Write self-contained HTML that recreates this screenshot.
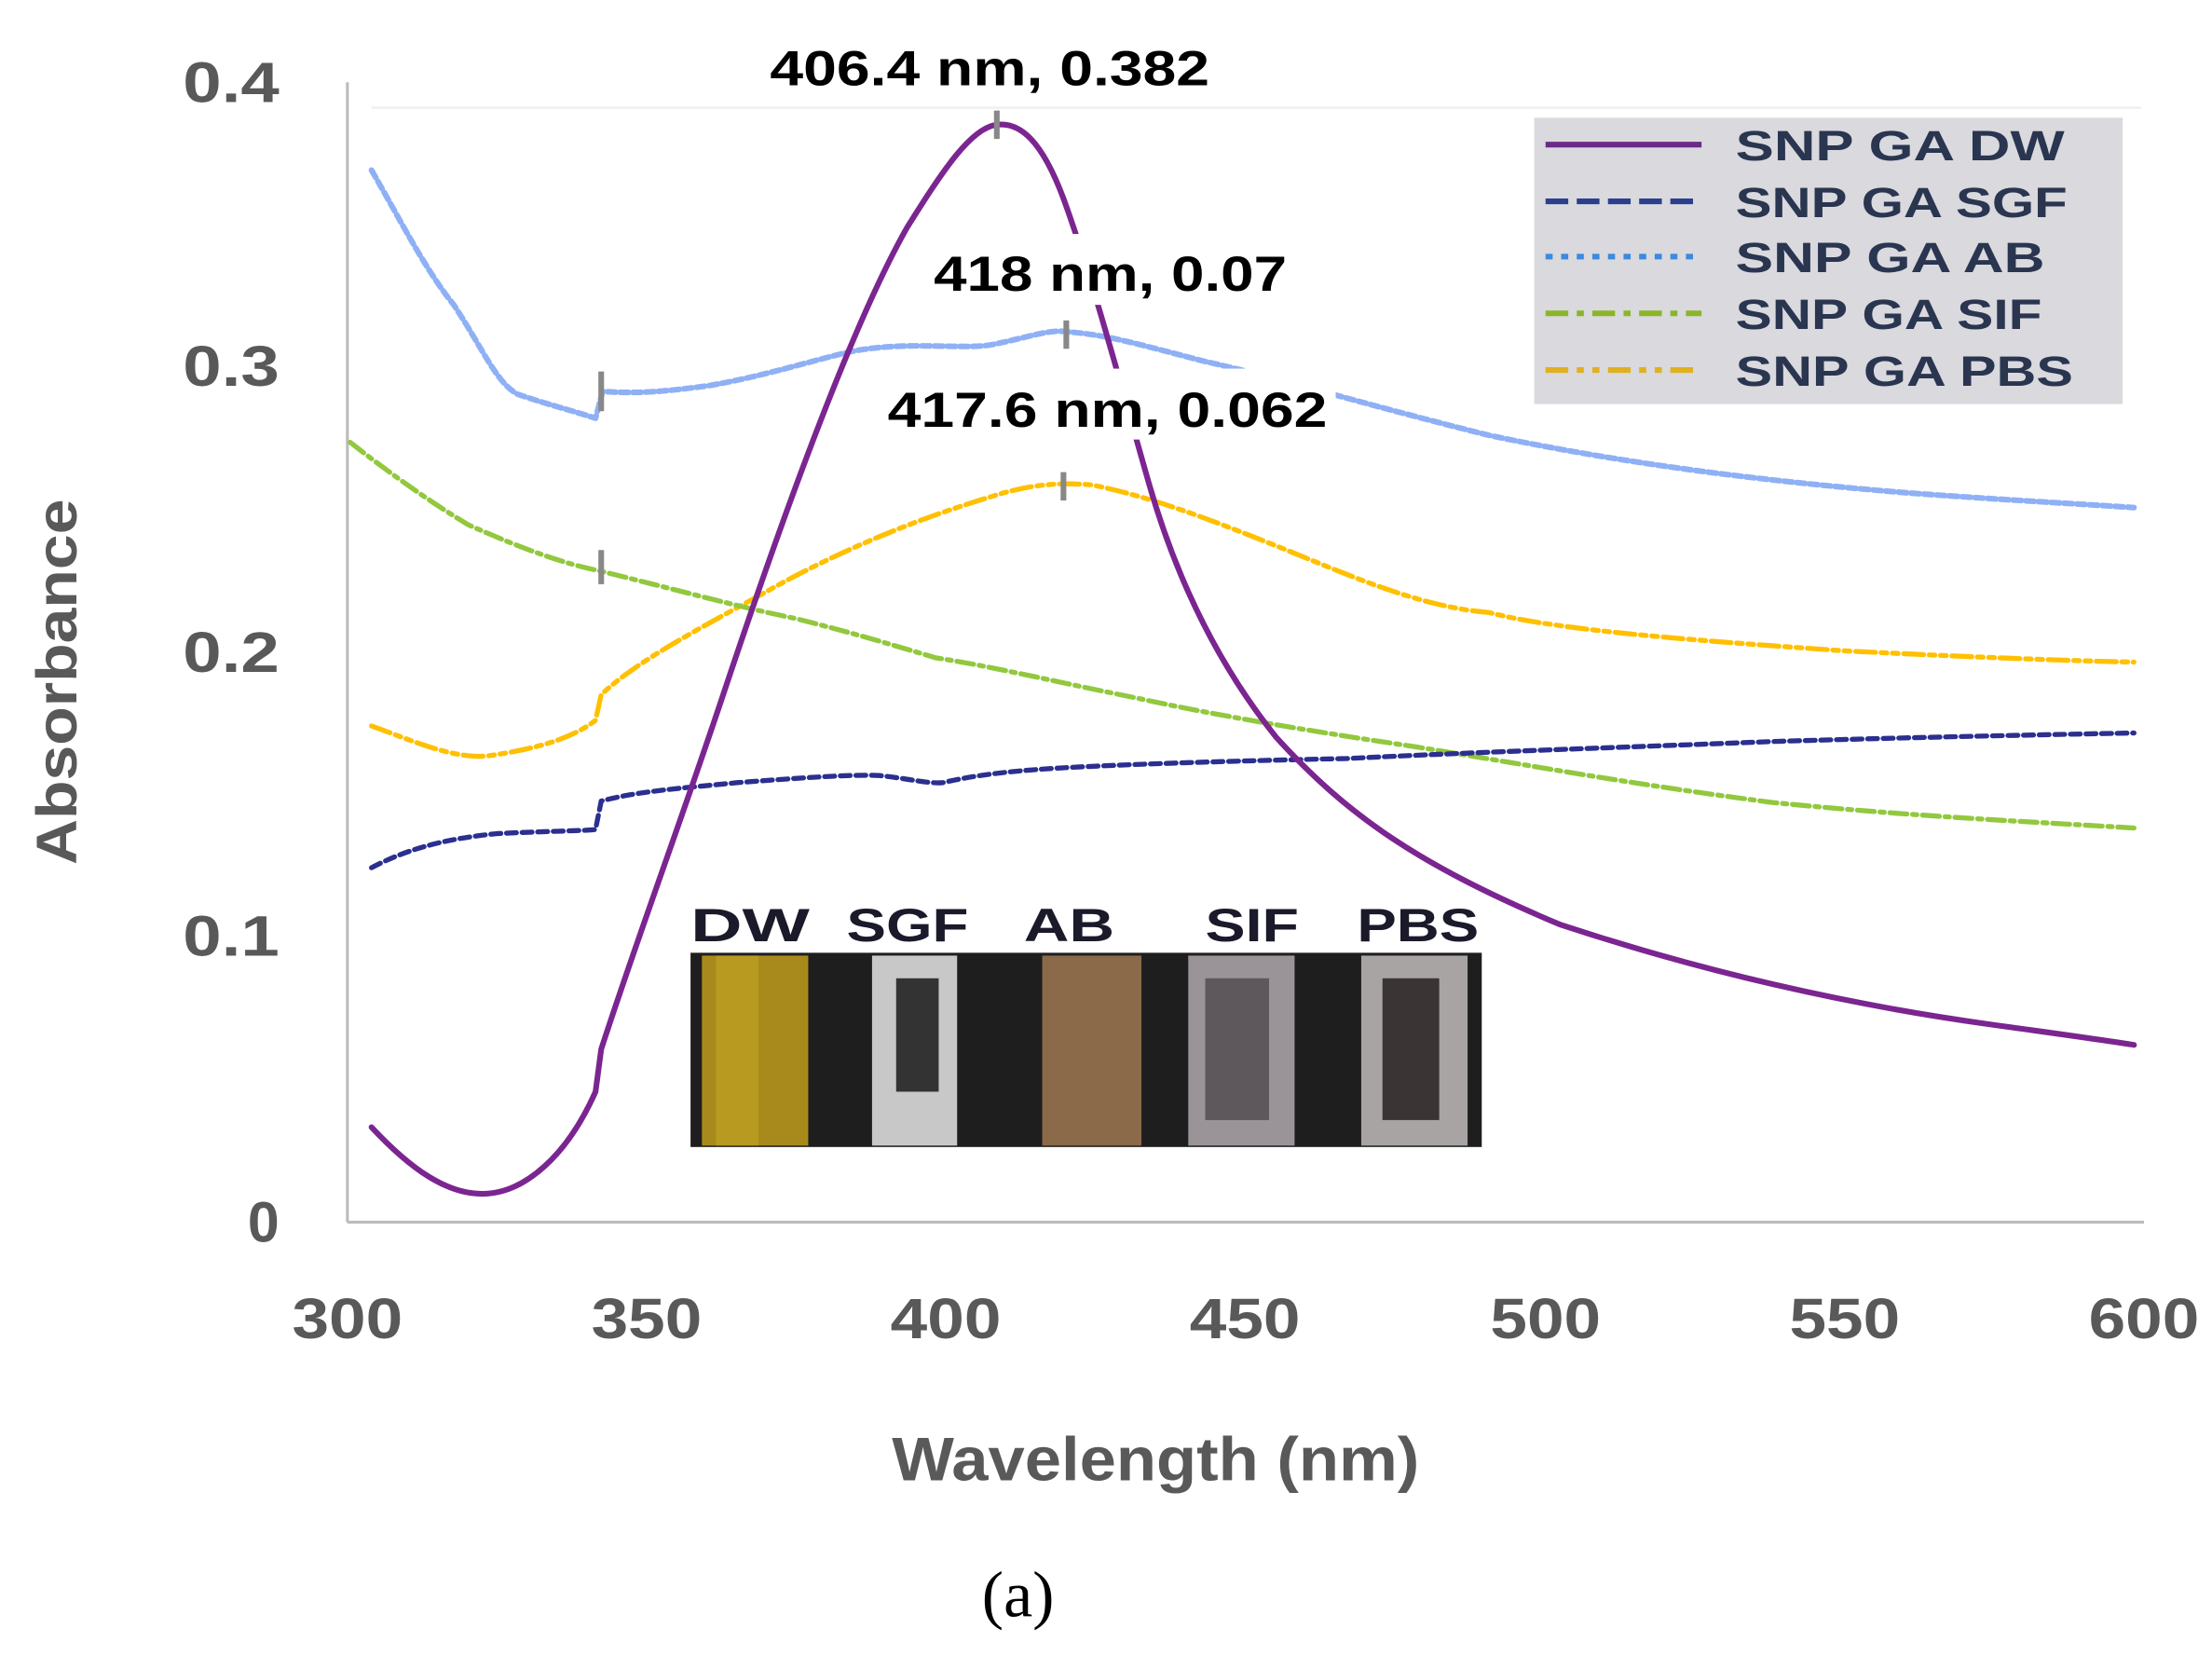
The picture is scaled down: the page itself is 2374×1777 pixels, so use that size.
<!DOCTYPE html>
<html><head><meta charset="utf-8"><style>
html,body{margin:0;padding:0;background:#fff;}
svg{display:block;}
.t{font-family:"Liberation Sans",sans-serif;font-weight:bold;fill:#595959;}
.a{font-family:"Liberation Sans",sans-serif;font-weight:bold;fill:#000;}
.l{font-family:"Liberation Sans",sans-serif;font-weight:bold;fill:#2a3550;font-size:30px;}
.p{font-family:"Liberation Sans",sans-serif;font-weight:bold;fill:#1a1a2a;font-size:33px;}
</style></head><body>
<svg width="2374" height="1777" viewBox="0 0 1560 1168" preserveAspectRatio="none" xmlns="http://www.w3.org/2000/svg">
<rect width="1560" height="1168" fill="#fff"/>
<line x1="262" y1="76" x2="1510" y2="76" stroke="#eee" stroke-width="1.5"/>
<line x1="245" y1="58" x2="245" y2="862" stroke="#bbb" stroke-width="2"/>
<line x1="245" y1="862" x2="1512" y2="862" stroke="#bbb" stroke-width="2"/>
<g class="t" font-size="40" text-anchor="end">
<text x="197" y="72" textLength="68" lengthAdjust="spacingAndGlyphs">0.4</text><text x="197" y="272" textLength="68" lengthAdjust="spacingAndGlyphs">0.3</text><text x="197" y="474" textLength="68" lengthAdjust="spacingAndGlyphs">0.2</text><text x="197" y="674" textLength="68" lengthAdjust="spacingAndGlyphs">0.1</text><text x="197" y="876">0</text>
</g>
<g class="t" font-size="40" text-anchor="middle">
<text x="245" y="944" textLength="78" lengthAdjust="spacingAndGlyphs">300</text><text x="456" y="944" textLength="78" lengthAdjust="spacingAndGlyphs">350</text><text x="667" y="944" textLength="78" lengthAdjust="spacingAndGlyphs">400</text><text x="878" y="944" textLength="78" lengthAdjust="spacingAndGlyphs">450</text><text x="1090" y="944" textLength="78" lengthAdjust="spacingAndGlyphs">500</text><text x="1301" y="944" textLength="78" lengthAdjust="spacingAndGlyphs">550</text><text x="1512" y="944" textLength="78" lengthAdjust="spacingAndGlyphs">600</text>
<text x="815" y="1044" font-size="43" textLength="372" lengthAdjust="spacingAndGlyphs">Wavelength (nm)</text>
</g>
<text class="t" font-size="40" text-anchor="middle" textLength="258" lengthAdjust="spacingAndGlyphs" transform="translate(54,481) rotate(-90)">Absorbance</text>
<text x="718" y="1140" font-family="Liberation Serif,serif" font-size="46" text-anchor="middle" fill="#000">(a)</text>
<g fill="none" stroke-linejoin="round" stroke-linecap="round">
<path d="M262,120 C285,160 300,190 320,215 C340,245 350,270 365,278 C385,285 405,290 420,295 L425,276 C450,278 470,276 500,272 C540,265 570,255 600,248 C640,240 680,247 700,243 C725,238 740,232 752,234 C780,236 800,242 850,255 C900,266 950,282 1050,307 C1150,328 1250,340 1350,348 C1420,353 1460,355 1505,358" stroke="#8fb0f5" stroke-width="4" stroke-dasharray="6 3"/>
<path d="M262,512 C290,522 320,536 345,533 C380,528 405,520 420,508 L424,490 C450,465 500,440 550,412 C600,385 650,365 700,350 C725,342 745,340 770,342 C810,350 850,365 900,385 C950,405 1000,428 1050,432 C1100,445 1200,452 1300,459 C1400,464 1460,466 1505,467" stroke="#ffc000" stroke-width="3.5" stroke-dasharray="14 4 4 4 4 4"/>
<path d="M247,312 C270,330 300,352 330,370 C370,388 400,398 420,402 C470,414 520,428 560,436 C600,446 630,455 660,464 C700,470 740,480 800,492 C860,505 920,515 1000,527 C1080,540 1150,553 1250,566 C1350,576 1440,580 1505,584" stroke="#92c83e" stroke-width="3.5" stroke-dasharray="12 4 3 4"/>
<path d="M262,612 C285,600 310,592 350,588 C390,586 415,586 420,585 L424,565 C450,558 480,556 520,552 C560,549 600,546 620,547 C640,549 655,553 665,552 C690,546 720,543 760,541 C820,538 900,536 950,535 C1050,530 1150,527 1250,523 C1350,520 1450,518 1505,517" stroke="#2b2f8f" stroke-width="3.5" stroke-dasharray="7 4"/>
<path d="M262,795 C290,825 315,842 340,842 C370,842 400,815 420,770 L424,740 C450,660 480,580 510,490 C550,370 600,230 640,160 C665,120 685,90 703,88 C720,86 735,100 750,140 C770,195 790,270 810,340 C830,410 860,470 900,520 C950,575 1000,610 1100,652 C1200,685 1300,708 1400,722 C1450,729 1480,733 1505,737" stroke="#7b2591" stroke-width="4"/>
</g>
<rect x="652" y="165" width="262" height="50" fill="#fff"/>
<rect x="620" y="260" width="322" height="50" fill="#fff"/>
<g stroke="#888" stroke-width="4">
<line x1="703" y1="78" x2="703" y2="98"/><line x1="752" y1="226" x2="752" y2="246"/><line x1="750" y1="333" x2="750" y2="353"/>
<line x1="424" y1="262" x2="424" y2="290"/><line x1="424" y1="388" x2="424" y2="412"/>
</g>
<g class="a" font-size="35" text-anchor="middle">
<text x="698" y="60" textLength="310" lengthAdjust="spacingAndGlyphs">406.4 nm, 0.382</text>
<text x="783" y="205" textLength="249" lengthAdjust="spacingAndGlyphs">418 nm, 0.07</text>
<text x="781" y="301" textLength="310" lengthAdjust="spacingAndGlyphs">417.6 nm, 0.062</text>
</g>
<rect x="1082" y="83" width="415" height="202" fill="#d9d9de"/>
<g stroke-width="4">
<line x1="1090" y1="102" x2="1200" y2="102" stroke="#6a2a86"/>
<line x1="1090" y1="142" x2="1200" y2="142" stroke="#2b3f8f" stroke-dasharray="16 6"/>
<line x1="1090" y1="181" x2="1200" y2="181" stroke="#3a8ae0" stroke-dasharray="5 6"/>
<line x1="1090" y1="221" x2="1200" y2="221" stroke="#8ab52a" stroke-dasharray="16 6 5 6"/>
<line x1="1090" y1="261" x2="1200" y2="261" stroke="#e0b020" stroke-dasharray="16 6 5 6 5 6"/>
</g>
<g class="l">
<text x="1224" y="113" textLength="232" lengthAdjust="spacingAndGlyphs">SNP GA DW</text><text x="1224" y="153" textLength="234" lengthAdjust="spacingAndGlyphs">SNP GA SGF</text><text x="1224" y="192" textLength="218" lengthAdjust="spacingAndGlyphs">SNP GA AB</text><text x="1224" y="232" textLength="216" lengthAdjust="spacingAndGlyphs">SNP GA SIF</text><text x="1224" y="272" textLength="238" lengthAdjust="spacingAndGlyphs">SNP GA PBS</text>
</g>
<g class="p">
<text x="487" y="664" textLength="84" lengthAdjust="spacingAndGlyphs">DW</text><text x="597" y="664" textLength="86" lengthAdjust="spacingAndGlyphs">SGF</text><text x="722" y="664" textLength="64" lengthAdjust="spacingAndGlyphs">AB</text><text x="850" y="664" textLength="66" lengthAdjust="spacingAndGlyphs">SIF</text><text x="957" y="664" textLength="86" lengthAdjust="spacingAndGlyphs">PBS</text>
</g>
<rect x="487" y="672" width="558" height="137" fill="#1e1e1e"/>
<rect x="495" y="674" width="75" height="134" fill="#a88a1c"/>
<rect x="505" y="674" width="30" height="134" fill="#b89a20"/>
<rect x="615" y="674" width="60" height="134" fill="#c8c8c8"/>
<rect x="632" y="690" width="30" height="80" fill="#333"/>
<rect x="735" y="674" width="70" height="134" fill="#8a6a48"/>
<rect x="838" y="674" width="75" height="134" fill="#9a9498"/>
<rect x="850" y="690" width="45" height="100" fill="#5e585c"/>
<rect x="960" y="674" width="75" height="134" fill="#a8a4a4"/>
<rect x="975" y="690" width="40" height="100" fill="#3a3434"/>
</svg>
</body></html>
